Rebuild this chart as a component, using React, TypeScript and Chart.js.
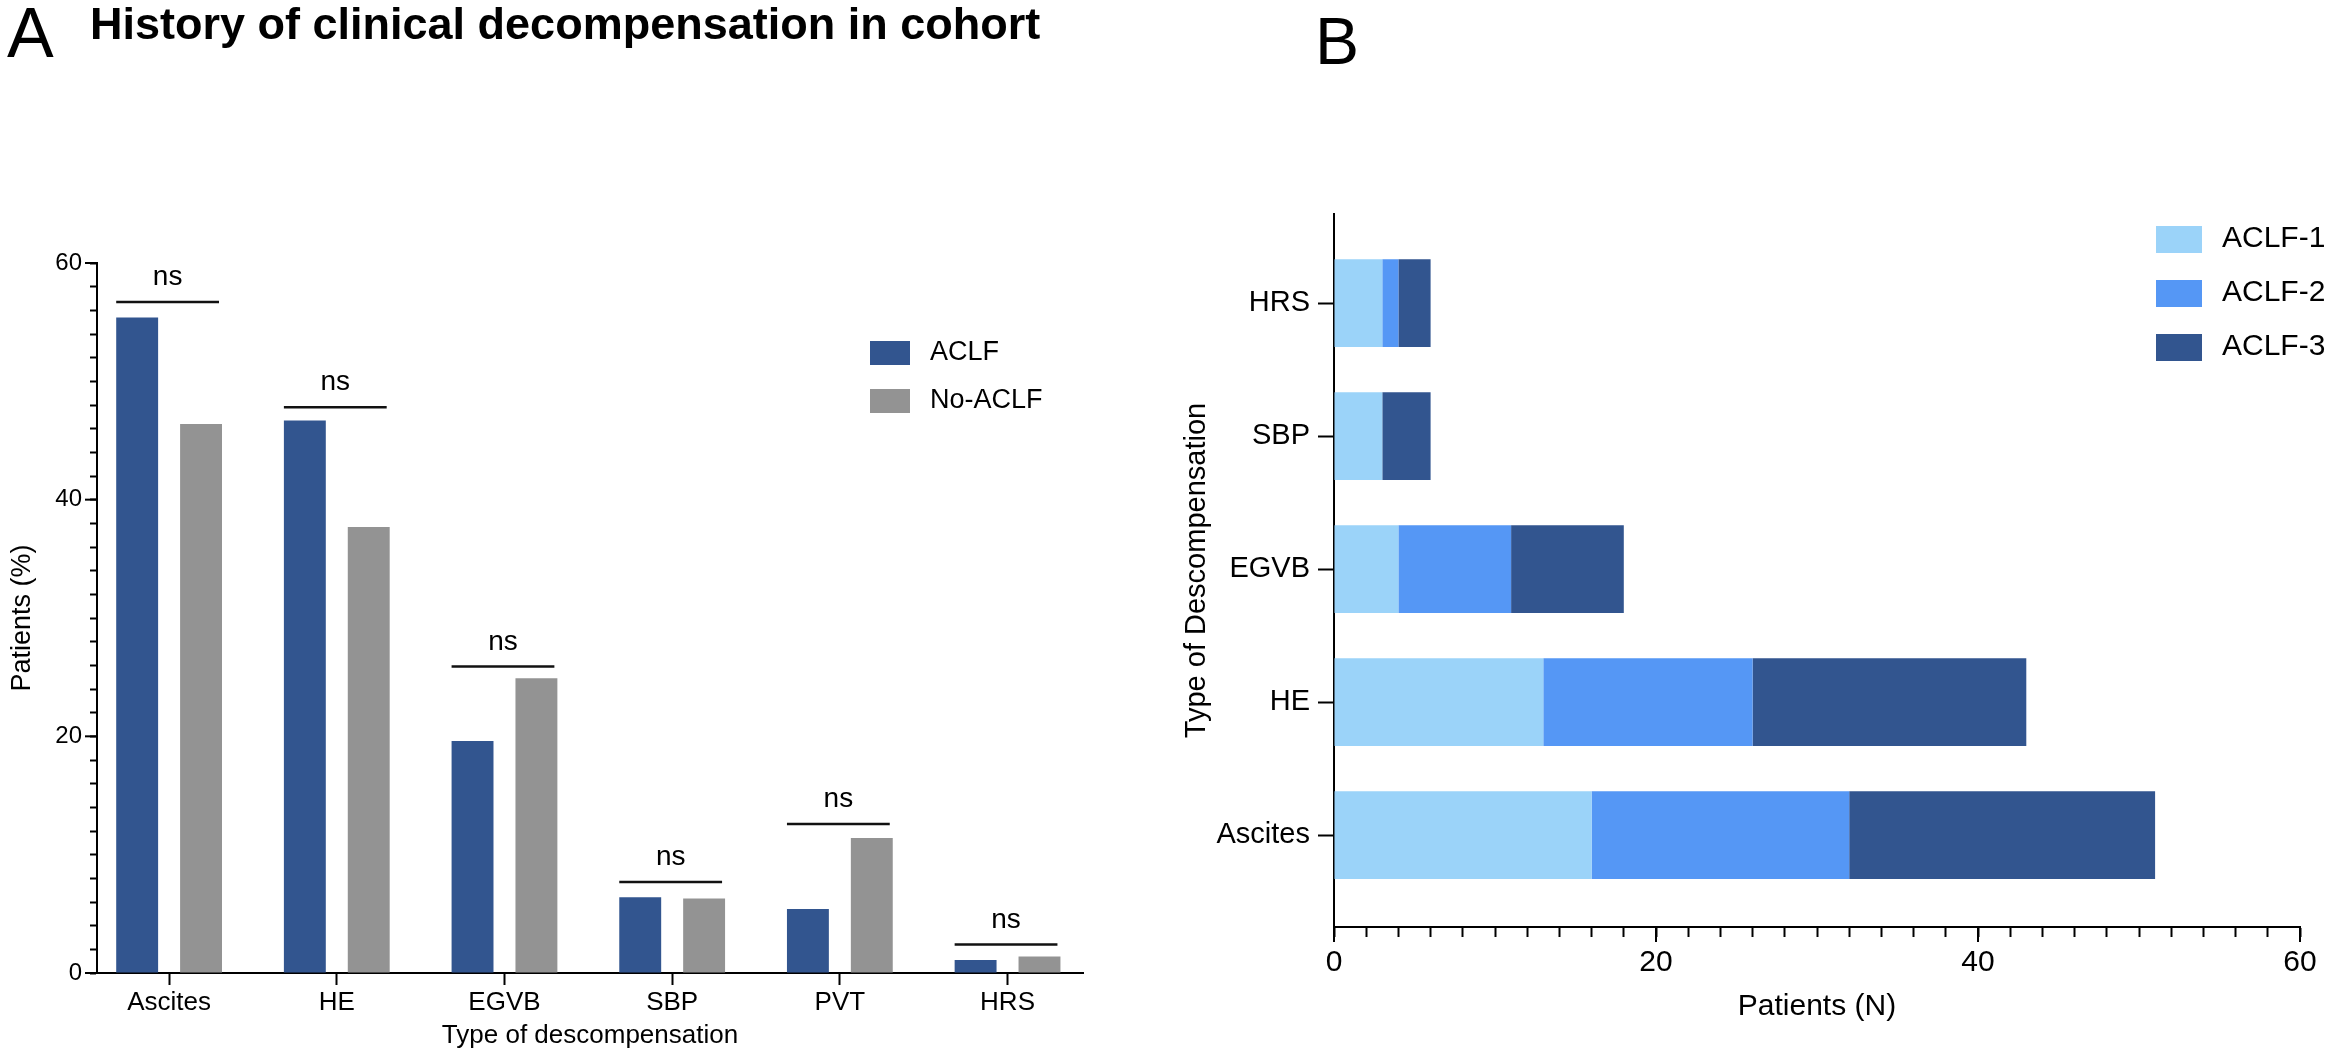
import React, { useEffect, useRef } from 'react';
import { Chart, registerables } from 'chart.js';

Chart.register(...registerables);

const FONT = "'Liberation Sans', Arial, Helvetica, sans-serif";
Chart.defaults.font.family = FONT;
Chart.defaults.color = '#000';

// ---------- Panel A data ----------
const panelALetter = 'A';
const titleA = 'History of clinical decompensation in cohort';
const categoriesA = ['Ascites', 'HE', 'EGVB', 'SBP', 'PVT', 'HRS'];
const seriesANames = ['ACLF', 'No-ACLF'];
const aclfPct = [55.4, 46.7, 19.6, 6.4, 5.4, 1.1];
const noAclfPct = [46.4, 37.7, 24.9, 6.3, 11.4, 1.4];
const bracketLevelsA = [56.7, 47.8, 25.9, 7.7, 12.6, 2.4];
const bracketLabelsA = ['ns', 'ns', 'ns', 'ns', 'ns', 'ns'];
const yTicksA = [0, 2, 4, 6, 8, 10, 12, 14, 16, 18, 20, 22, 24, 26, 28, 30, 32, 34, 36, 38, 40, 42, 44, 46, 48, 50, 52, 54, 56, 58, 60];
const yMajorA = [0, 20, 40, 60];
const xTitleA = 'Type of descompensation';
const yTitleA = 'Patients (%)';
const colorsA = ['#32558F', '#939393'];

// ---------- Panel B data ----------
const panelBLetter = 'B';
const categoriesB = ['Ascites', 'HE', 'EGVB', 'SBP', 'HRS'];
const seriesBNames = ['ACLF-1', 'ACLF-2', 'ACLF-3'];
const aclf1 = [16, 13, 4, 3, 3];
const aclf2 = [16, 13, 7, 0, 1];
const aclf3 = [19, 17, 7, 3, 2];
const xTicksB = [0, 2, 4, 6, 8, 10, 12, 14, 16, 18, 20, 22, 24, 26, 28, 30, 32, 34, 36, 38, 40, 42, 44, 46, 48, 50, 52, 54, 56, 58, 60];
const xMajorB = [0, 20, 40, 60];
const xTitleB = 'Patients (N)';
const yTitleB = 'Type of Descompensation';
const colorsB = ['#9BD3F9', '#5597F5', '#32558F'];

const panelAPlugin = {
  id: 'panelAExtras',
  afterDraw(chart: any) {
    const ctx = chart.ctx;
    const yS = chart.scales.y;
    const area = chart.chartArea;
    ctx.save();
    // longer major ticks
    ctx.strokeStyle = '#000';
    ctx.lineWidth = 2;
    yMajorA.forEach((v) => {
      const py = yS.getPixelForValue(v);
      ctx.beginPath();
      ctx.moveTo(area.left - 12, py);
      ctx.lineTo(area.left, py);
      ctx.stroke();
    });
    // significance brackets
    const m0 = chart.getDatasetMeta(0);
    const m1 = chart.getDatasetMeta(1);
    bracketLevelsA.forEach((lvl, i) => {
      const b0: any = m0.data[i];
      const b1: any = m1.data[i];
      const l = b0.x - b0.width / 2;
      const r = b1.x + b1.width / 2 - 3;
      const py = yS.getPixelForValue(lvl);
      ctx.strokeStyle = '#111';
      ctx.lineWidth = 2.5;
      ctx.beginPath();
      ctx.moveTo(l, py);
      ctx.lineTo(r, py);
      ctx.stroke();
      ctx.fillStyle = '#000';
      ctx.font = `28px ${FONT}`;
      ctx.textAlign = 'center';
      ctx.textBaseline = 'alphabetic';
      ctx.fillText(bracketLabelsA[i], (l + r) / 2, py - 17);
    });
    // legend
    chart.data.datasets.forEach((ds: any, i: number) => {
      const top = 341 + i * 48;
      ctx.fillStyle = ds.backgroundColor;
      ctx.fillRect(870, top, 40, 24);
      ctx.fillStyle = '#000';
      ctx.font = `27px ${FONT}`;
      ctx.textAlign = 'left';
      ctx.textBaseline = 'middle';
      ctx.fillText(ds.label, 930, top + 12);
    });
    // panel letter and title
    ctx.fillStyle = '#000';
    ctx.textAlign = 'left';
    ctx.textBaseline = 'alphabetic';
    ctx.font = `70px ${FONT}`;
    ctx.fillText(panelALetter, 7, 57);
    ctx.font = `bold 45px ${FONT}`;
    ctx.fillText(titleA, 90, 39);
    ctx.restore();
  },
};

const panelBPlugin = {
  id: 'panelBExtras',
  afterDraw(chart: any) {
    const ctx = chart.ctx;
    const xS = chart.scales.x;
    const area = chart.chartArea;
    ctx.save();
    ctx.strokeStyle = '#000';
    ctx.lineWidth = 2;
    xMajorB.forEach((v) => {
      const px = xS.getPixelForValue(v);
      ctx.beginPath();
      ctx.moveTo(px, area.bottom);
      ctx.lineTo(px, area.bottom + 15);
      ctx.stroke();
    });
    // legend
    chart.data.datasets.forEach((ds: any, i: number) => {
      const top = 226 + i * 54;
      ctx.fillStyle = ds.backgroundColor;
      ctx.fillRect(986, top, 46, 27);
      ctx.fillStyle = '#000';
      ctx.font = `30px ${FONT}`;
      ctx.textAlign = 'left';
      ctx.textBaseline = 'middle';
      ctx.fillText(ds.label, 1052, top + 13);
    });
    ctx.fillStyle = '#000';
    ctx.textAlign = 'left';
    ctx.textBaseline = 'alphabetic';
    ctx.font = `66px ${FONT}`;
    ctx.fillText(panelBLetter, 145, 64);
    ctx.restore();
  },
};

function PanelA() {
  const ref = useRef<HTMLCanvasElement | null>(null);
  useEffect(() => {
    if (!ref.current) return;
    const idx = categoriesA.map((_, i) => i);
    const chart = new Chart(ref.current, {
      type: 'bar',
      data: {
        labels: idx as any,
        datasets: [
          { label: seriesANames[0], data: aclfPct, backgroundColor: colorsA[0], categoryPercentage: 0.762, barPercentage: 0.656 },
          { label: seriesANames[1], data: noAclfPct, backgroundColor: colorsA[1], categoryPercentage: 0.762, barPercentage: 0.656 },
        ],
      },
      options: {
        animation: false,
        responsive: false,
        devicePixelRatio: 1,
        layout: { padding: { top: 263, right: 87, bottom: 0, left: 0 } },
        plugins: { legend: { display: false }, tooltip: { enabled: false } },
        scales: {
          x: {
            type: 'linear',
            min: -0.43,
            max: 5.45,
            bounds: 'data',
            offset: false,
            afterBuildTicks: (axis: any) => {
              axis.ticks = idx.map((v) => ({ value: v }));
            },
            afterFit: (axis: any) => {
              axis.height = 81;
            },
            ticks: {
              callback: (v: any) => categoriesA[Math.round(v)] ?? '',
              font: { size: 26 },
              color: '#000',
              padding: 2,
              autoSkip: false,
              maxRotation: 0,
            },
            grid: { display: true, offset: false, drawOnChartArea: false, drawTicks: true, tickLength: 12, tickColor: '#000', tickWidth: 2 },
            border: { display: true, color: '#000', width: 2 },
            title: { display: true, text: xTitleA, font: { size: 26 }, color: '#000', padding: { top: 0, bottom: 3 } },
          },
          y: {
            type: 'linear',
            min: 0,
            max: 60,
            bounds: 'data',
            afterBuildTicks: (axis: any) => {
              axis.ticks = yTicksA.map((v) => ({ value: v }));
            },
            afterFit: (axis: any) => {
              axis.width = 97;
            },
            ticks: {
              callback: (v: any) => (yMajorA.includes(v) ? String(v) : ''),
              font: { size: 24 },
              color: '#000',
              padding: 8,
              autoSkip: false,
            },
            grid: { display: true, offset: false, drawOnChartArea: false, drawTicks: true, tickLength: 7, tickColor: '#000', tickWidth: 2 },
            border: { display: true, color: '#000', width: 2 },
            title: { display: true, text: yTitleA, font: { size: 27 }, color: '#000', padding: { top: 6, bottom: 0 } },
          },
        },
      } as any,
      plugins: [panelAPlugin],
    });
    return () => chart.destroy();
  }, []);
  return <canvas ref={ref} width={1170} height={1054} style={{ position: 'absolute', left: 0, top: 0, width: 1170, height: 1054 }} />;
}

function PanelB() {
  const ref = useRef<HTMLCanvasElement | null>(null);
  useEffect(() => {
    if (!ref.current) return;
    const idx = categoriesB.map((_, i) => i);
    const chart = new Chart(ref.current, {
      type: 'bar',
      data: {
        labels: idx as any,
        datasets: [
          { label: seriesBNames[0], data: aclf1, backgroundColor: colorsB[0] },
          { label: seriesBNames[1], data: aclf2, backgroundColor: colorsB[1] },
          { label: seriesBNames[2], data: aclf3, backgroundColor: colorsB[2] },
        ],
      },
      options: {
        indexAxis: 'y',
        animation: false,
        responsive: false,
        devicePixelRatio: 1,
        datasets: { bar: { categoryPercentage: 1, barPercentage: 0.66 } },
        layout: { padding: { top: 214, right: 41, bottom: 0, left: 0 } },
        plugins: { legend: { display: false }, tooltip: { enabled: false } },
        scales: {
          x: {
            type: 'linear',
            stacked: true,
            min: 0,
            max: 60,
            bounds: 'data',
            offset: false,
            afterBuildTicks: (axis: any) => {
              axis.ticks = xTicksB.map((v) => ({ value: v }));
            },
            afterFit: (axis: any) => {
              axis.height = 127;
            },
            ticks: {
              callback: (v: any) => (xMajorB.includes(v) ? String(v) : ''),
              font: { size: 30 },
              color: '#000',
              padding: 8,
              autoSkip: false,
              maxRotation: 0,
            },
            grid: { display: true, offset: false, drawOnChartArea: false, drawTicks: true, tickLength: 10, tickColor: '#000', tickWidth: 2 },
            border: { display: true, color: '#000', width: 2 },
            title: { display: true, text: xTitleB, font: { size: 30 }, color: '#000', padding: { top: 0, bottom: 29 } },
          },
          y: {
            type: 'linear',
            stacked: true,
            min: -0.69,
            max: 4.67,
            bounds: 'data',
            offset: false,
            afterBuildTicks: (axis: any) => {
              axis.ticks = idx.map((v) => ({ value: v }));
            },
            afterFit: (axis: any) => {
              axis.width = 164;
            },
            ticks: {
              callback: (v: any) => categoriesB[Math.round(v)] ?? '',
              font: { size: 29 },
              color: '#000',
              padding: 8,
              autoSkip: false,
            },
            grid: { display: true, offset: false, drawOnChartArea: false, drawTicks: true, tickLength: 16, tickColor: '#000', tickWidth: 2 },
            border: { display: true, color: '#000', width: 2 },
            title: { display: true, text: yTitleB, font: { size: 29 }, color: '#000', padding: { top: 10, bottom: 0 } },
          },
        },
      } as any,
      plugins: [panelBPlugin],
    });
    return () => chart.destroy();
  }, []);
  return <canvas ref={ref} width={1171} height={1054} style={{ position: 'absolute', left: 1170, top: 0, width: 1171, height: 1054 }} />;
}

export default function App() {
  return (
    <div style={{ position: 'absolute', left: 0, top: 0, width: 2341, height: 1054, background: '#fff', overflow: 'hidden' }}>
      <PanelA />
      <PanelB />
    </div>
  );
}
